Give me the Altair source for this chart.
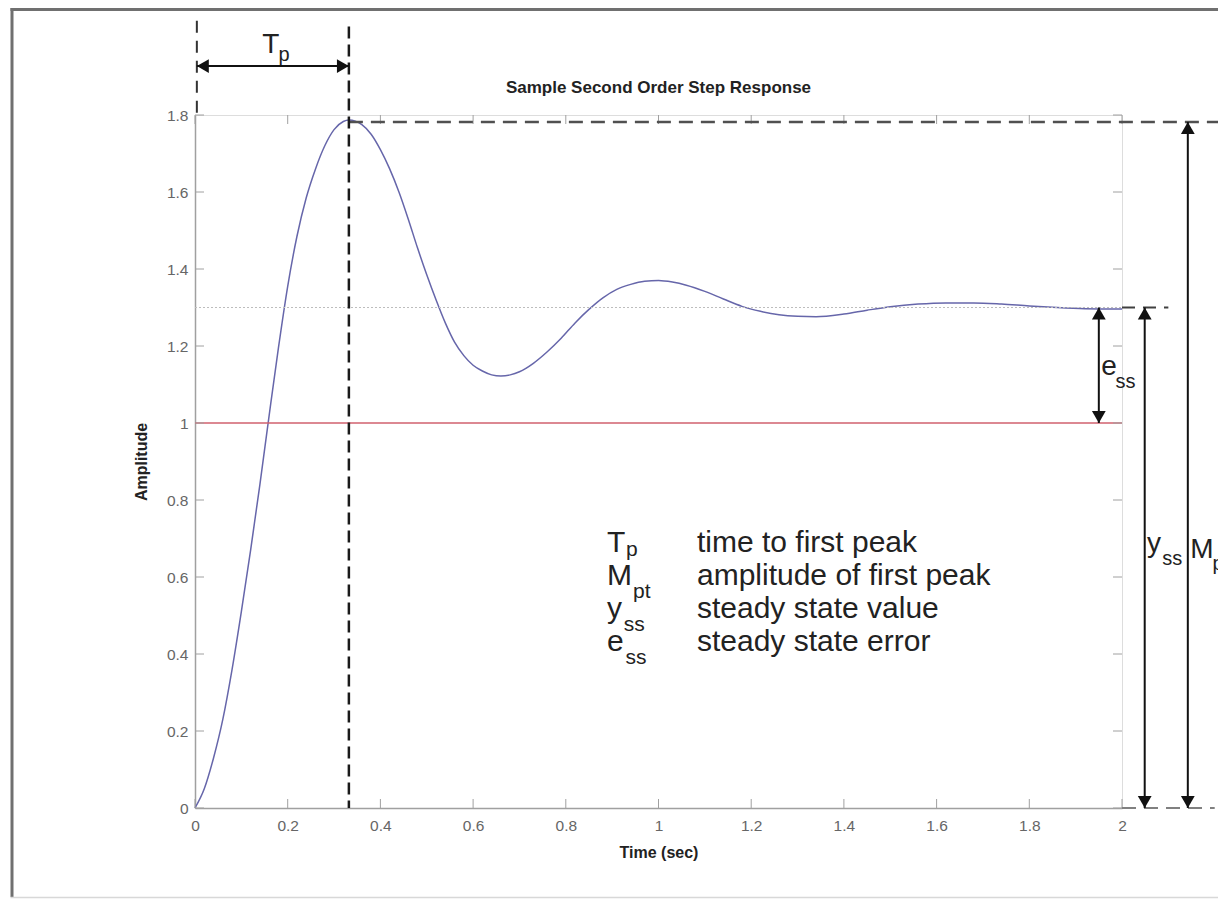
import altair as alt
import pandas as pd

# ---- data ----
time_s = [0.00, 0.02, 0.04, 0.06, 0.08, 0.10, 0.12, 0.14, 0.16, 0.18, 0.20, 0.22,
          0.24, 0.26, 0.28, 0.30, 0.32, 0.332, 0.36, 0.38, 0.40, 0.42, 0.44, 0.46,
          0.48, 0.50, 0.52, 0.54, 0.56, 0.58, 0.60, 0.62, 0.64, 0.66, 0.68, 0.70,
          0.73, 0.76, 0.79, 0.82, 0.85, 0.88, 0.91, 0.94, 0.97, 1.00, 1.03, 1.06,
          1.10, 1.14, 1.18, 1.22, 1.26, 1.30, 1.34, 1.40, 1.45, 1.50, 1.56, 1.62,
          1.68, 1.74, 1.80, 1.86, 1.92, 1.98, 2.00]
amplitude = [0.000, 0.050, 0.130, 0.230, 0.360, 0.510, 0.670, 0.840, 1.020, 1.195, 1.355, 1.485,
             1.585, 1.660, 1.720, 1.762, 1.783, 1.787, 1.775, 1.750, 1.710, 1.660, 1.600, 1.530,
             1.455, 1.385, 1.320, 1.260, 1.210, 1.175, 1.150, 1.135, 1.125, 1.122, 1.125, 1.133,
             1.155, 1.185, 1.220, 1.260, 1.295, 1.325, 1.347, 1.360, 1.368, 1.370, 1.366, 1.358,
             1.342, 1.322, 1.303, 1.290, 1.281, 1.277, 1.276, 1.283, 1.293, 1.302, 1.309, 1.312,
             1.312, 1.309, 1.304, 1.300, 1.297, 1.296, 1.296]
x_ticks = [0, 0.2, 0.4, 0.6, 0.8, 1.0, 1.2, 1.4, 1.6, 1.8, 2.0]
y_ticks = [0, 0.2, 0.4, 0.6, 0.8, 1.0, 1.2, 1.4, 1.6, 1.8]

TITLE = "Sample Second Order Step Response"
T_PEAK = 0.332     # time to first peak
M_PEAK = 1.782     # amplitude of first peak
Y_SS = 1.3         # steady state value
Y_REF = 1.0        # reference input

legend_symbols = ["T", "M", "y", "e"]
legend_subs = ["p", "pt", "ss", "ss"]
legend_desc = ["time to first peak", "amplitude of first peak",
               "steady state value", "steady state error"]
legend_rows = [0.665, 0.579, 0.494, 0.408]
legend_sub_rows = [0.655, 0.546, 0.461, 0.375]
legend_sub_x = [0.930, 0.945, 0.925, 0.929]

# annotation geometry (data units)
ESS_X, YSS_X, MPT_X = 1.950, 2.049, 2.142
TP_ARROW_Y = 1.927
TP_LEFT_X = 0.004
TITLE_POS = (1.0, 1.857)

W, H = 927, 693
XS = alt.Scale(domain=[0, 2], nice=False, zero=False)
YS = alt.Scale(domain=[0, 1.8], nice=False, zero=False)
FONT = "Liberation Sans"
INK = "#111111"

XAXIS = alt.Axis(values=x_ticks, ticks=False, tickSize=0, grid=False, labelFlush=False,
                 format="~g", labelFont=FONT, labelFontSize=15.5,
                 labelColor="#666666", labelPadding=10,
                 domainColor="#a0a0a0", domainWidth=1.5,
                 titleFont=FONT, titleFontSize=16, titleFontWeight="bold",
                 titleColor="#222222", titlePadding=11)
YAXIS = alt.Axis(values=y_ticks, ticks=False, tickSize=0, grid=False, labelFlush=False,
                 format="~g", labelFont=FONT, labelFontSize=15.5,
                 labelColor="#666666", labelPadding=7,
                 domainColor="#a0a0a0", domainWidth=1.5,
                 titleFont=FONT, titleFontSize=16, titleFontWeight="bold",
                 titleColor="#222222", titlePadding=17)
XT = "Time (sec)"
YT = "Amplitude"


def X(f):
    return alt.X(f, type="quantitative", scale=XS, axis=XAXIS, title=XT)


def Y(f):
    return alt.Y(f, type="quantitative", scale=YS, axis=YAXIS, title=YT)


one = pd.DataFrame({"a": [0]})

curve_df = pd.DataFrame({"x": time_s, "y": amplitude})
curve = alt.Chart(curve_df).mark_line(
    color="#6666aa", strokeWidth=1.5, interpolate="monotone"
).encode(x=X("x"), y=Y("y"))

ydf = pd.DataFrame({"y": y_ticks})
xdf = pd.DataFrame({"x": x_ticks})
tick_style = dict(color="#a0a0a0", strokeWidth=1)
ticks = [
    alt.Chart(ydf).mark_rule(**tick_style).encode(y=Y("y"), x=alt.value(0), x2=alt.value(9)),
    alt.Chart(ydf).mark_rule(**tick_style).encode(y=Y("y"), x=alt.value(W), x2=alt.value(W - 9)),
    alt.Chart(xdf).mark_rule(**tick_style).encode(x=X("x"), y=alt.value(H), y2=alt.value(H - 9)),
    alt.Chart(xdf).mark_rule(**tick_style).encode(x=X("x"), y=alt.value(0), y2=alt.value(9)),
]

ref_line = alt.Chart(pd.DataFrame({"x": [0], "x2": [2], "y": [Y_REF]})).mark_rule(
    color="#d0606e", strokeWidth=1.5).encode(x=X("x"), x2="x2", y=Y("y"))
ss_dotted = alt.Chart(pd.DataFrame({"x": [0], "x2": [2], "y": [Y_SS]})).mark_rule(
    color="#bdbdbd", strokeWidth=1, strokeDash=[2, 2]).encode(x=X("x"), x2="x2", y=Y("y"))


def hdash(x1, x2, y, color, dash, width=2.5):
    return alt.Chart(pd.DataFrame({"x": [x1], "x2": [x2], "y": [y]})).mark_rule(
        color=color, strokeDash=dash, strokeWidth=width).encode(x=X("x"), x2="x2", y=Y("y"))


def vdash(x, y1, y2, color, dash, width=2.5):
    return alt.Chart(pd.DataFrame({"x": [x], "y": [y1], "y2": [y2]})).mark_rule(
        color=color, strokeDash=dash, strokeWidth=width).encode(x=X("x"), y=Y("y"), y2="y2")


guides = [
    hdash(T_PEAK, 2.25, M_PEAK, "#505050", [14, 8]),
    hdash(2.0, 2.10, Y_SS, "#404040", [13, 8], 2),
    hdash(2.0, 2.20, 0, "#808080", [14, 8], 2),
    vdash(T_PEAK, 2.03, 0, "#1a1a1a", [12, 6]),
    vdash(TP_LEFT_X, 2.045, 1.8, "#333333", [12, 8], 2),
]


def varrow(x, y_top, y_bot):
    line = alt.Chart(pd.DataFrame({"x": [x], "y": [y_top], "y2": [y_bot]})).mark_rule(
        color=INK, strokeWidth=2).encode(x=X("x"), y=Y("y"), y2="y2")
    up = alt.Chart(pd.DataFrame({"x": [x], "y": [y_top]})).mark_point(
        shape="triangle-up", filled=True, size=190, color=INK, opacity=1, yOffset=6
    ).encode(x=X("x"), y=Y("y"))
    down = alt.Chart(pd.DataFrame({"x": [x], "y": [y_bot]})).mark_point(
        shape="triangle-down", filled=True, size=190, color=INK, opacity=1, yOffset=-6
    ).encode(x=X("x"), y=Y("y"))
    return [line, up, down]


def harrow(x_left, x_right, y):
    line = alt.Chart(pd.DataFrame({"x": [x_left], "x2": [x_right], "y": [y]})).mark_rule(
        color=INK, strokeWidth=2).encode(x=X("x"), x2="x2", y=Y("y"))
    left = alt.Chart(pd.DataFrame({"x": [x_left], "y": [y]})).mark_point(
        shape="triangle-left", filled=True, size=190, color=INK, opacity=1, xOffset=6
    ).encode(x=X("x"), y=Y("y"))
    right = alt.Chart(pd.DataFrame({"x": [x_right], "y": [y]})).mark_point(
        shape="triangle-right", filled=True, size=190, color=INK, opacity=1, xOffset=-6
    ).encode(x=X("x"), y=Y("y"))
    return [line, left, right]


arrows = (harrow(TP_LEFT_X, T_PEAK, TP_ARROW_Y) + varrow(ESS_X, Y_SS, Y_REF)
          + varrow(YSS_X, Y_SS, 0) + varrow(MPT_X, M_PEAK, 0))

main_txt = pd.DataFrame({
    "x": [0.145, 1.955, 2.054, 2.147] + [0.889] * 4,
    "y": [1.961, 1.125, 0.665, 0.649] + legend_rows,
    "text": ["T", "e", "y", "M"] + legend_symbols,
    "s": [28, 28, 28, 28] + [30] * 4,
})
sub_txt = pd.DataFrame({
    "x": [0.180, 1.986, 2.087, 2.195] + legend_sub_x,
    "y": [1.940, 1.091, 0.631, 0.618] + legend_sub_rows,
    "text": ["p", "ss", "ss", "pt"] + legend_subs,
    "s": [20, 20, 20, 20] + [21] * 4,
})
desc_txt = pd.DataFrame({"x": [1.083] * 4, "y": legend_rows, "text": legend_desc})
title_df = pd.DataFrame({"x": [TITLE_POS[0]], "y": [TITLE_POS[1]], "text": [TITLE]})

text_style = dict(align="left", baseline="alphabetic", font=FONT, color="#222222")
texts = [
    alt.Chart(main_txt).mark_text(**text_style).encode(
        x=X("x"), y=Y("y"), text="text:N", size=alt.Size("s:Q", scale=None, legend=None)),
    alt.Chart(sub_txt).mark_text(**text_style).encode(
        x=X("x"), y=Y("y"), text="text:N", size=alt.Size("s:Q", scale=None, legend=None)),
    alt.Chart(desc_txt).mark_text(fontSize=30, **text_style).encode(
        x=X("x"), y=Y("y"), text="text:N"),
    alt.Chart(title_df).mark_text(align="center", baseline="alphabetic", font=FONT,
                                  fontSize=17, fontWeight="bold", color="#222222").encode(
        x=X("x"), y=Y("y"), text="text:N"),
]

# picture frame
frame = [
    alt.Chart(one).mark_rule(color="#707070", strokeWidth=3).encode(
        x=alt.value(-183), y=alt.value(-107), y2=alt.value(782)),
    alt.Chart(one).mark_rule(color="#707070", strokeWidth=3).encode(
        x=alt.value(-184.5), x2=alt.value(W + 120), y=alt.value(-105.5)),
    alt.Chart(one).mark_rule(color="#d8d8d8", strokeWidth=1.5).encode(
        x=alt.value(-184.5), x2=alt.value(W + 120), y=alt.value(782.5)),
]

chart = alt.layer(
    curve, *frame, ss_dotted, ref_line, *ticks, *guides, *arrows, *texts
).properties(
    width=W, height=H,
    autosize=alt.AutoSizeParams(type="none"),
    padding={"left": 187, "top": 107, "right": 96, "bottom": 91},
).configure_view(
    stroke="#a0a0a0", strokeWidth=1.5
).configure(background="white")

chart.save("out.html", embed_options={"renderer": "svg", "actions": False})
